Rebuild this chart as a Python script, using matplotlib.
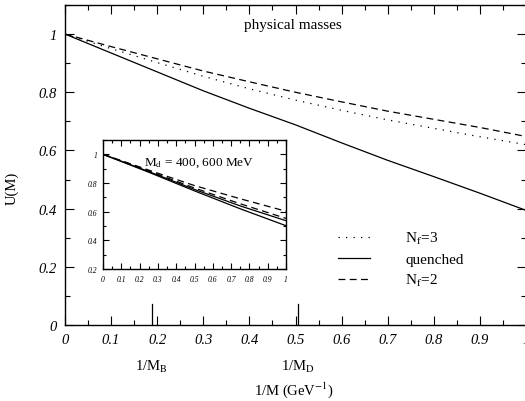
import matplotlib
matplotlib.use("Agg")
import matplotlib.pyplot as plt
import numpy as np
from matplotlib.ticker import MultipleLocator

plt.rcParams['font.family'] = ['Liberation Serif', 'DejaVu Serif']
plt.rcParams['mathtext.fontset'] = 'stix'

# main panel: U(M) vs 1/M
x = [0.0, 0.1, 0.2, 0.3, 0.4, 0.5, 0.6, 0.7, 0.8, 0.9, 1.0]
u_quenched = [1.0, 0.935, 0.870, 0.805, 0.745, 0.688, 0.626, 0.566, 0.510, 0.453, 0.394]
u_nf2 = [1.0, 0.957, 0.915, 0.873, 0.836, 0.800, 0.767, 0.735, 0.707, 0.679, 0.648]
u_nf3 = [1.0, 0.950, 0.902, 0.855, 0.812, 0.773, 0.738, 0.705, 0.676, 0.647, 0.620]

# inset: M_d = 400, 600 MeV
x_in = [0.0, 0.25, 0.5, 0.75, 1.0]
in_q400 = [1.0, 0.875, 0.745, 0.620, 0.502]
in_q600 = [1.0, 0.880, 0.755, 0.640, 0.537]
in_nf2_400 = [1.0, 0.884, 0.765, 0.655, 0.553]
in_nf2_600 = [1.0, 0.890, 0.782, 0.690, 0.603]

inv_mb = 0.188
inv_md = 0.505

xticks = [0, 0.1, 0.2, 0.3, 0.4, 0.5, 0.6, 0.7, 0.8, 0.9, 1]
xticklabels = ['0', '0.1', '0.2', '0.3', '0.4', '0.5', '0.6', '0.7', '0.8', '0.9', '1']
yticks = [0, 0.2, 0.4, 0.6, 0.8, 1]
yticklabels = ['0', '0.2', '0.4', '0.6', '0.8', '1']
in_yticks = [0.2, 0.4, 0.6, 0.8, 1]
in_yticklabels = ['0.2', '0.4', '0.6', '0.8', '1']

dotted = (0, (1, 5))
dashed = (0, (5.5, 3.5))

fig = plt.figure(figsize=(5.25, 4.02), dpi=100)
ax = fig.add_axes([65/525, 1-326/402, 460/525 + 0.002, 320/402])

ax.plot(x, u_nf3, color='black', lw=0.9, ls=dotted, label='N$_\\mathrm{f}$=3')
ax.plot(x, u_quenched, color='black', lw=0.9, ls='-', label='quenched')
ax.plot(x, u_nf2, color='black', lw=0.9, ls=dashed, label='N$_\\mathrm{f}$=2')

ax.set_xlim(0, 1)
ax.set_ylim(0, 1.1)
ax.set_xticks(xticks)
ax.set_xticklabels(xticklabels, style='italic', fontsize=10.5)
ax.set_yticks(yticks)
ax.set_yticklabels(yticklabels, style='italic', fontsize=10.5)
ax.xaxis.set_minor_locator(MultipleLocator(0.05))
ax.yaxis.set_minor_locator(MultipleLocator(0.1))
ax.tick_params(which='both', direction='in', top=True, right=True, width=0.8)
ax.tick_params(which='major', length=6.5, pad=6)
ax.tick_params(which='minor', length=3.8)
for s in ax.spines.values():
    s.set_linewidth(1.0)

# long marks for 1/M_B and 1/M_D
ax.plot([inv_mb, inv_mb], [0, 0.072], color='black', lw=0.9)
ax.plot([inv_md, inv_md], [0, 0.072], color='black', lw=0.9)
trans = ax.get_xaxis_transform()
ax.text(inv_mb, -0.128, '1/M$_\\mathrm{B}$', transform=trans, ha='center', va='center', fontsize=10.5)
ax.text(inv_md, -0.128, '1/M$_\\mathrm{D}$', transform=trans, ha='center', va='center', fontsize=10.5)

ax.text(0.495, 0.94, 'physical masses', transform=ax.transAxes, ha='center', va='center', fontsize=11)
fig.text(294/525, 1-390/402, '1/M (GeV$^{-1}$)', ha='center', va='center', fontsize=10.5)
fig.text(12/525, 1-188/402, 'U(M)', ha='center', va='center', rotation=90, fontsize=10.5)

ax.legend(loc='center left', bbox_to_anchor=(338/525, 1-260/402), bbox_transform=fig.transFigure,
          frameon=False, fontsize=11, handlelength=2.1, handletextpad=2.3,
          labelspacing=0.4, borderpad=0, borderaxespad=0)

# inset
axi = fig.add_axes([103/525, 1-270/402, 183/525, 129/402])
axi.plot(x_in, in_q400, color='black', lw=0.9, ls='-')
axi.plot(x_in, in_q600, color='black', lw=0.9, ls='-')
axi.plot(x_in, in_nf2_400, color='black', lw=0.9, ls=dashed)
axi.plot(x_in, in_nf2_600, color='black', lw=0.9, ls=dashed)
axi.set_xlim(0, 1)
axi.set_ylim(0.2, 1.1)
axi.set_xticks(xticks)
axi.set_xticklabels(xticklabels, style='italic', fontsize=5.5)
axi.set_yticks(in_yticks)
axi.set_yticklabels(in_yticklabels, style='italic', fontsize=5.5)
axi.xaxis.set_minor_locator(MultipleLocator(0.05))
axi.yaxis.set_minor_locator(MultipleLocator(0.1))
axi.tick_params(which='both', direction='in', top=True, right=True, width=0.8)
axi.tick_params(which='major', length=4, pad=4)
axi.tick_params(which='minor', length=2.5)
for s in axi.spines.values():
    s.set_linewidth(1.0)
axi.text(0.525, 0.83, 'M$_\\mathrm{d}$ = 400, 600 MeV', transform=axi.transAxes,
         ha='center', va='center', fontsize=9.5)

fig.savefig('out.png', dpi=100)
